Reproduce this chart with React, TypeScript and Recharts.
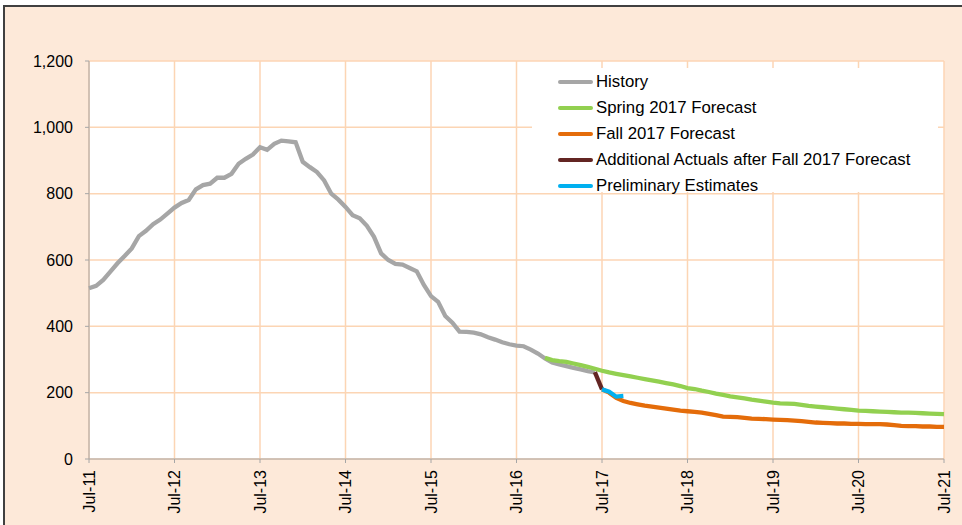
import React from 'react';
import { LineChart, Line, XAxis, YAxis, CartesianGrid, Legend } from 'recharts';

const FONT = '"Liberation Sans", Arial, sans-serif';

const monthTicks = [0, 12, 24, 36, 48, 60, 72, 84, 96, 108, 120];
const tickLabels = ['Jul-11', 'Jul-12', 'Jul-13', 'Jul-14', 'Jul-15', 'Jul-16', 'Jul-17', 'Jul-18', 'Jul-19', 'Jul-20', 'Jul-21'];
const yTicks = [0, 200, 400, 600, 800, 1000, 1200];

// History: months 0 (Jul-11) .. 71
const historyValues = [
  515, 522, 540, 565, 590, 612, 635, 672, 688, 708, 722, 740,
  758, 772, 781, 813, 826, 830, 848, 848, 860, 890, 905, 918,
  940, 932, 950, 960, 958, 955, 896, 880, 865, 840, 800, 782,
  760, 735, 726, 703, 670, 620, 600, 588, 586, 576, 566, 525,
  491, 474, 431, 411, 384, 383, 381, 376, 367, 360, 352, 346,
  342, 340, 330, 318, 303, 291, 285, 280, 275, 270, 265, 261,
];

// Spring 2017 Forecast: months 64 .. 120
const springStart = 64;
const springValues = [
  305, 298, 295, 293, 288, 283, 278, 272,
  266, 261, 257, 253, 249, 245, 241, 237, 233, 229, 225, 220,
  214, 211, 206, 202, 197, 193, 189, 186, 183, 179, 176, 173,
  170, 168, 167, 166, 163, 160, 158, 156, 154, 152, 150, 148,
  146, 145, 144, 143, 142, 141, 140, 140, 139, 138, 137, 136,
  135,
];

// Fall 2017 Forecast: months 72 .. 120
const fallStart = 72;
const fallValues = [
  210, 200, 184, 175, 169, 165, 161, 158, 155, 152, 149, 146,
  144, 142, 140, 136, 132, 128, 127, 126, 124, 122, 121, 120,
  119, 118, 117, 116, 114, 112, 110, 109, 108, 107, 107, 106,
  106, 105, 105, 105, 104, 102, 100, 99, 99, 98, 98, 97,
  97,
];

// Additional Actuals after Fall 2017 Forecast: months 71 .. 72
const additionalStart = 71;
const additionalValues = [262, 210];

// Preliminary Estimates: months 72 .. 75
const prelimStart = 72;
const prelimValues = [210, 203, 188, 190];

const seriesList = [
  { key: 'history', name: 'History', color: '#A6A6A6' },
  { key: 'spring', name: 'Spring 2017 Forecast', color: '#92D050' },
  { key: 'fall', name: 'Fall 2017 Forecast', color: '#E46C0A' },
  { key: 'additional', name: 'Additional Actuals after Fall 2017 Forecast', color: '#632523' },
  { key: 'prelim', name: 'Preliminary Estimates', color: '#00B0F0' },
];

const pick = (arr: number[], start: number, m: number) => {
  const i = m - start;
  return i >= 0 && i < arr.length ? arr[i] : null;
};

const data = Array.from({ length: 121 }, (_, m) => ({
  m,
  history: pick(historyValues, 0, m),
  spring: pick(springValues, springStart, m),
  fall: pick(fallValues, fallStart, m),
  additional: pick(additionalValues, additionalStart, m),
  prelim: pick(prelimValues, prelimStart, m),
}));

const XTick = (props: any) => {
  const { x, y, payload } = props;
  const idx = monthTicks.indexOf(payload.value);
  const label = idx >= 0 ? tickLabels[idx] : '';
  const ay = y + 5;
  return (
    <text
      x={x}
      y={ay}
      dy="0.35em"
      textAnchor="end"
      transform={`rotate(-90, ${x}, ${ay})`}
      fill="#000"
      fontSize={16}
      fontFamily={FONT}
    >
      {label}
    </text>
  );
};

const renderLegend = () => (
  <div
    style={{
      background: '#fff',
      width: 406,
      height: 124,
      paddingTop: 1,
      boxSizing: 'border-box',
      fontFamily: FONT,
      fontSize: 16.8,
      color: '#000',
    }}
  >
    {seriesList.map((s) => (
      <div key={s.key} style={{ display: 'flex', alignItems: 'center', height: 26 }}>
        <div style={{ marginLeft: 26, width: 35, height: 4, background: s.color, borderRadius: 2 }} />
        <span style={{ marginLeft: 3, lineHeight: '26px', whiteSpace: 'nowrap' }}>{s.name}</span>
      </div>
    ))}
  </div>
);

export default function App() {
  return (
    <div style={{ position: 'absolute', left: 0, top: 0, width: 962, height: 525, background: '#fff', overflow: 'hidden' }}>
      <div
        style={{
          position: 'absolute',
          left: 3,
          top: 5,
          width: 1000,
          height: 600,
          background: '#FDE9D9',
          border: '2px solid #404040',
          boxSizing: 'border-box',
        }}
      />
      <div style={{ position: 'absolute', left: 0, top: 0 }}>
        <LineChart width={962} height={525} data={data} margin={{ top: 61, right: 18, left: 0, bottom: 0 }}>
          <CartesianGrid fill="#fff" stroke="#FCD5B4" strokeWidth={1.5} />
          <XAxis
            dataKey="m"
            type="number"
            domain={[0, 120]}
            ticks={monthTicks}
            interval={0}
            height={66}
            tickSize={4}
            tickMargin={2}
            stroke="#A6A6A6"
            tick={<XTick />}
          />
          <YAxis
            type="number"
            domain={[0, 1200]}
            ticks={yTicks}
            interval={0}
            width={89}
            tickSize={4}
            tickMargin={12}
            stroke="#A6A6A6"
            tickFormatter={(v: number) => v.toLocaleString('en-US')}
            tick={{ fill: '#000', fontSize: 16, fontFamily: FONT }}
          />
          {seriesList.map((s) => (
            <Line
              key={s.key}
              type="linear"
              dataKey={s.key}
              name={s.name}
              stroke={s.color}
              strokeWidth={4.3}
              dot={false}
              activeDot={false}
              connectNulls={false}
              isAnimationActive={false}
            />
          ))}
          <Legend
            layout="vertical"
            align="center"
            verticalAlign="middle"
            content={renderLegend}
            wrapperStyle={{ left: 532, top: 68, width: 406, height: 124 }}
          />
        </LineChart>
      </div>
    </div>
  );
}
